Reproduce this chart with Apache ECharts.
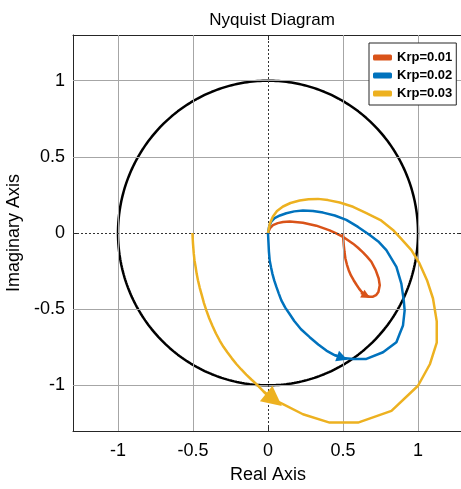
<!DOCTYPE html>
<html><head><meta charset="utf-8">
<script src="https://cdn.jsdelivr.net/npm/echarts@6/dist/echarts.min.js"></script>
<style>html,body{margin:0;padding:0;background:#fff}#c{width:461px;height:489px}</style>
</head><body><div id="c"></div>
<script>
// ---- data ----
const xTicks = [-1, -0.5, 0, 0.5, 1];
const yTicks = [-1, -0.5, 0, 0.5, 1];
const gridValues = [-1, -0.5, 0.5, 1];
const zeroValues = [0];
const seriesNames = ['Krp=0.01', 'Krp=0.02', 'Krp=0.03'];
const seriesColors = ['#D95319', '#0072BD', '#EDB120'];

const krp001 = [
  [0.5, 0.0], [0.502, -0.04], [0.505, -0.079], [0.51, -0.125], [0.516, -0.167], [0.526, -0.207],
  [0.538, -0.244], [0.553, -0.279], [0.571, -0.31], [0.59, -0.34], [0.607, -0.365], [0.625, -0.387],
  [0.645, -0.405], [0.66, -0.414], [0.678, -0.418], [0.7, -0.418], [0.72, -0.408], [0.736, -0.387],
  [0.745, -0.343], [0.738, -0.299], [0.718, -0.244], [0.689, -0.189], [0.66, -0.155], [0.633, -0.127],
  [0.6, -0.097], [0.567, -0.07], [0.5, -0.025], [0.455, -0.002], [0.411, 0.017], [0.322, 0.048],
  [0.233, 0.067], [0.145, 0.075], [0.1, 0.072], [0.065, 0.065], [0.033, 0.052], [0.012, 0.03], [0.0, 0.0]
];
const krp002 = [
  [0.0, 0.0], [0.003, -0.06], [0.006, -0.12], [0.011, -0.178], [0.02, -0.225], [0.03, -0.27],
  [0.042, -0.313], [0.056, -0.354], [0.072, -0.398], [0.089, -0.442], [0.115, -0.49], [0.144, -0.532],
  [0.175, -0.578], [0.22, -0.632], [0.278, -0.684], [0.335, -0.732], [0.389, -0.772], [0.44, -0.8],
  [0.5, -0.82], [0.567, -0.827], [0.656, -0.827], [0.767, -0.783], [0.856, -0.717], [0.878, -0.662],
  [0.9, -0.607], [0.911, -0.508], [0.905, -0.442], [0.889, -0.332], [0.856, -0.222], [0.789, -0.112],
  [0.735, -0.055], [0.678, -0.013], [0.6, 0.04], [0.522, 0.086], [0.445, 0.115], [0.367, 0.134],
  [0.3, 0.145], [0.233, 0.147], [0.175, 0.142], [0.122, 0.13], [0.08, 0.115], [0.044, 0.097],
  [0.022, 0.075], [0.008, 0.045], [0.0, 0.0]
];
const krp003 = [
  [-0.504, 0.0], [-0.5, -0.07], [-0.495, -0.134], [-0.49, -0.18], [-0.483, -0.22], [-0.476, -0.265],
  [-0.467, -0.31], [-0.455, -0.36], [-0.441, -0.41], [-0.427, -0.46], [-0.411, -0.508], [-0.392, -0.56],
  [-0.37, -0.61], [-0.347, -0.66], [-0.322, -0.706], [-0.297, -0.747], [-0.27, -0.785], [-0.241, -0.823],
  [-0.211, -0.86], [-0.178, -0.896], [-0.145, -0.93], [-0.111, -0.962], [-0.077, -0.992], [-0.03, -1.04],
  [0.011, -1.08], [0.1, -1.124], [0.233, -1.19], [0.411, -1.245], [0.6, -1.245], [0.823, -1.168],
  [1.0, -1.003], [1.08, -0.86], [1.125, -0.72], [1.125, -0.58], [1.1, -0.43], [1.06, -0.31],
  [1.01, -0.2], [0.956, -0.112], [0.89, -0.04], [0.833, 0.02], [0.75, 0.085], [0.656, 0.13],
  [0.567, 0.172], [0.478, 0.2], [0.4, 0.216], [0.333, 0.224], [0.27, 0.222], [0.211, 0.213],
  [0.15, 0.197], [0.1, 0.174], [0.06, 0.145], [0.033, 0.108], [0.012, 0.06], [0.0, 0.0]
];
// direction arrows: [from, to] along each curve
const arrow001 = [[0.62, -0.393], [0.655, -0.412]];
const arrow002 = [[0.44, -0.8], [0.495, -0.82]];
const arrow003 = [[-0.03, -1.04], [0.04, -1.095]];
const arrowSizes = [9, 11, 20];
// unit circle sampled by angle (degrees)
const circleAngles = Array.from({length: 361}, (_, i) => i);

// ---- build ----
const circle = circleAngles.map(a => [Math.cos(a * Math.PI / 180), Math.sin(a * Math.PI / 180)]);
const curves = [krp001, krp002, krp003];
const arrows = [arrow001, arrow002, arrow003];

const FONT = 'Liberation Sans, Arial, sans-serif';
const axisCommon = {
  type: 'value', min: -1.3, max: 1.3,
  axisLine: {show: true, onZero: false, lineStyle: {color: '#262626', width: 1}},
  splitLine: {show: false}
};

const series = [];
series.push({
  type: 'line', data: [], z: 1, silent: true,
  markLine: {
    silent: true, symbol: ['none', 'none'], label: {show: false}, animation: false,
    emphasis: {disabled: true},
    data: [
      ...gridValues.map(v => ({xAxis: v, lineStyle: {color: '#a6a6a6', width: 1, type: 'solid'}})),
      ...gridValues.map(v => ({yAxis: v, lineStyle: {color: '#a6a6a6', width: 1, type: 'solid'}})),
      ...zeroValues.map(v => ({xAxis: v, lineStyle: {color: '#333', width: 1, type: [2, 2]}})),
      ...zeroValues.map(v => ({yAxis: v, lineStyle: {color: '#333', width: 1, type: [2, 2]}}))
    ]
  }
});
series.push({
  name: 'circle', type: 'line', data: circle, showSymbol: false, z: 3, silent: true,
  lineStyle: {color: '#000', width: 2.5}
});
curves.forEach((d, i) => {
  series.push({
    name: seriesNames[i], type: 'line', data: d, showSymbol: false, z: 4 + i,
    color: seriesColors[i], lineStyle: {color: seriesColors[i], width: 2.5}, silent: true
  });
  series.push({
    type: 'lines', coordinateSystem: 'cartesian2d', z: 8 + i, silent: true,
    symbol: ['none', 'triangle'], symbolSize: arrowSizes[i],
    lineStyle: {color: seriesColors[i], width: 2.5, opacity: 1},
    data: [{coords: arrows[i]}]
  });
});

const chart = echarts.init(document.getElementById('c'));
chart.setOption({
  animation: false,
  backgroundColor: '#fff',
  title: {
    text: 'Nyquist Diagram', left: 267, top: 7, textAlign: 'center',
    textStyle: {fontFamily: FONT, fontSize: 17, fontWeight: 'normal', color: '#000'}
  },
  legend: {
    data: seriesNames, orient: 'vertical', left: 369, top: 43,
    backgroundColor: '#fff', borderColor: '#262626', borderWidth: 1, borderRadius: 0,
    padding: [8, 4, 5, 4], itemGap: 5, itemWidth: 19, itemHeight: 6, icon: 'roundRect',
    textStyle: {fontFamily: FONT, fontSize: 13, fontWeight: 'bold', color: '#000'},
    selectedMode: false, z: 20
  },
  grid: {left: 73, top: 35, width: 390, height: 396, containLabel: false, outerBoundsMode: 'none'},
  xAxis: [
    Object.assign({}, axisCommon, {
      position: 'bottom', name: 'Real Axis', nameLocation: 'middle', nameGap: 35,
      nameTextStyle: {fontFamily: FONT, fontSize: 18, color: '#000'},
      axisTick: {show: true, inside: true, length: 5, customValues: xTicks, lineStyle: {color: '#262626'}},
      axisLabel: {show: true, customValues: xTicks, margin: 11, fontFamily: FONT, fontSize: 18, color: '#000'}
    }),
    Object.assign({}, axisCommon, {
      position: 'top',
      axisTick: {show: true, inside: true, length: 5, customValues: xTicks, lineStyle: {color: '#262626'}},
      axisLabel: {show: false}
    })
  ],
  yAxis: [
    Object.assign({}, axisCommon, {
      position: 'left', name: 'Imaginary Axis', nameLocation: 'middle', nameGap: 41,
      nameTextStyle: {fontFamily: FONT, fontSize: 18, color: '#000'},
      axisTick: {show: true, inside: true, length: 5, customValues: yTicks, lineStyle: {color: '#262626'}},
      axisLabel: {show: true, customValues: yTicks, margin: 8, fontFamily: FONT, fontSize: 18, color: '#000'}
    }),
    Object.assign({}, axisCommon, {
      position: 'right',
      axisTick: {show: true, inside: true, length: 5, customValues: yTicks, lineStyle: {color: '#262626'}},
      axisLabel: {show: false}
    })
  ],
  series: series
});
</script>
</body></html>
